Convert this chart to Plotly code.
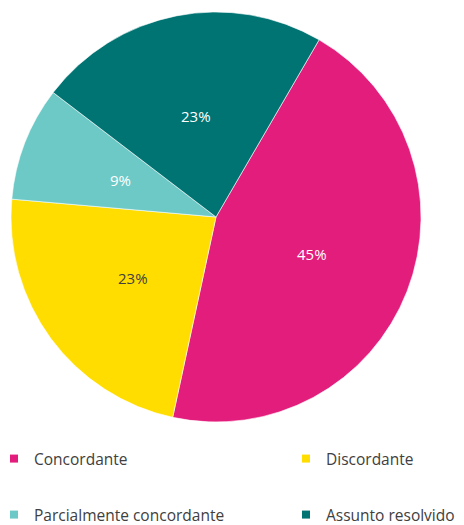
import math
import plotly.graph_objects as go

labels = ["Concordante", "Discordante", "Parcialmente concordante", "Assunto resolvido"]
values = [45, 23, 9, 23]
colors = ["#E31D7C", "#FFDD00", "#6CC9C6", "#007373"]
text_colors = ["#FFFFFF", "#404040", "#FFFFFF", "#FFFFFF"]
start_angle = 30.2  # degrees clockwise from 12 o'clock

W, H = 464, 525
FONT = "Open Sans, sans-serif"

# pie geometry in pixels
cx, cy, r = 216, 217, 205

fig = go.Figure()
fig.add_trace(go.Pie(
    labels=labels,
    values=values,
    sort=False,
    direction="clockwise",
    rotation=start_angle,
    marker=dict(colors=colors, line=dict(color="#FFFFFF", width=0.6)),
    textinfo="none",
    showlegend=False,
    hoverinfo="label+percent",
    domain=dict(x=[(cx - r) / W, (cx + r) / W], y=[1 - (cy + r) / H, 1 - (cy - r) / H]),
))

# percentage labels at half radius along each slice's bisector
total = sum(values)
acc = 0.0
for v, tc in zip(values, text_colors):
    mid = math.radians(start_angle + 360 * (acc + v / 2) / total)
    acc += v
    px = cx + 0.5 * r * math.sin(mid)
    py = cy - 0.5 * r * math.cos(mid)
    fig.add_annotation(
        x=px / W, y=1 - py / H, xref="paper", yref="paper",
        xanchor="center", yanchor="middle",
        text=f"{round(100 * v / total)}%", showarrow=False,
        font=dict(family=FONT, size=15, color=tc),
    )

# legend: one legend box per entry, laid out in two rows and two columns
legend_pos = [(-6, 459), (286, 459), (-6, 515), (286, 515)]
legend_names = ["legend", "legend2", "legend3", "legend4"]
legend_style = dict(
    orientation="v",
    xanchor="left",
    yanchor="middle",
    font=dict(family=FONT, size=15.5, color="#404040"),
    bgcolor="rgba(0,0,0,0)",
    borderwidth=0,
    itemclick=False,
    itemdoubleclick=False,
)
layout_legends = {}
for lab, col, ln, (lx, ly) in zip(labels, colors, legend_names, legend_pos):
    fig.add_trace(go.Scatter(
        x=[None], y=[None], mode="markers", name=lab,
        marker=dict(symbol="square", size=8, color=col),
        legend=ln, hoverinfo="skip",
    ))
    layout_legends[ln] = dict(legend_style, x=lx / W, y=1 - ly / H)

fig.update_layout(
    width=W,
    height=H,
    margin=dict(l=0, r=0, t=0, b=0, autoexpand=False),
    paper_bgcolor="#FFFFFF",
    plot_bgcolor="#FFFFFF",
    xaxis=dict(visible=False),
    yaxis=dict(visible=False),
    **layout_legends,
)

fig.write_html("out.html")
